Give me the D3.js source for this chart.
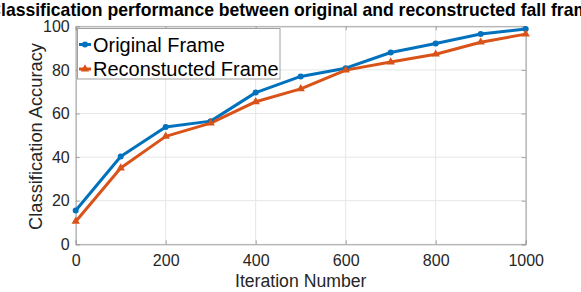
<!DOCTYPE html>
<html><head><meta charset="utf-8">
<script src="https://cdn.jsdelivr.net/npm/d3@7"></script>
<style>body{margin:0;background:#fff;} svg{display:block;} text{font-family:"Liberation Sans",Arial,Helvetica,sans-serif;}</style>
</head><body>
<svg id="c" width="581" height="292"></svg>
<script>
const iterations = [0,100,200,300,400,500,600,700,800,900,1000];
const originalFrame = [15.5,40.3,53.8,56.5,69.6,77.0,80.8,88.0,92.1,96.5,98.8];
const reconstructedFrame = [10.5,35.0,49.5,55.6,65.4,71.3,79.9,83.6,87.2,92.7,96.4];
const seriesNames = ["Original Frame","Reconstucted Frame"];
const xTicks = [0,200,400,600,800,1000];
const yTicks = [0,20,40,60,80,100];
const titleText = "Classification performance between original and reconstructed fall frames";

const svg = d3.select("#c");
const L = 75.7, R = 525.7, T = 26.3, B = 244.3;
const x = d3.scaleLinear().domain([0,1000]).range([L,R]);
const y = d3.scaleLinear().domain([0,100]).range([B,T]);
const axisCol = "#262626";

// fit a text's font size so it spans a target width
function fitWidth(sel, target){
  const n = sel.node();
  const fs = parseFloat(sel.style("font-size"));
  const w = n.getComputedTextLength();
  sel.style("font-size", (fs*target/w)+"px");
}

// grid
const g = svg.append("g");
g.selectAll(".gx").data(xTicks).join("line").attr("x1",d=>x(d)).attr("x2",d=>x(d)).attr("y1",T).attr("y2",B).attr("stroke","#e6e6e6").attr("stroke-width",1);
g.selectAll(".gy").data(yTicks).join("line").attr("x1",L).attr("x2",R).attr("y1",d=>y(d)).attr("y2",d=>y(d)).attr("stroke","#e6e6e6").attr("stroke-width",1);

// axes
const fmt = d3.format("d");
const xa = svg.append("g").attr("transform",`translate(0,${B})`).call(d3.axisBottom(x).tickValues(xTicks).tickSize(-4).tickPadding(10).tickFormat(fmt));
const ya = svg.append("g").attr("transform",`translate(${L},0)`).call(d3.axisLeft(y).tickValues(yTicks).tickSize(-4).tickPadding(6).tickFormat(fmt));
const xt = svg.append("g").attr("transform",`translate(0,${T})`).call(d3.axisTop(x).tickValues(xTicks).tickSize(-4).tickFormat(""));
const yr = svg.append("g").attr("transform",`translate(${R},0)`).call(d3.axisRight(y).tickValues(yTicks).tickSize(-4).tickFormat(""));
[xa,ya,xt,yr].forEach(a=>{
  a.selectAll("path").attr("stroke","#a0a0a0").attr("stroke-width",1);
  a.selectAll("line").attr("stroke","#a0a0a0");
  a.selectAll("text").attr("fill",axisCol).style("font-size","16px").style("font-family","'Liberation Sans',Arial,sans-serif");
});

// lines
const colors = ["#0072BD","#D95319"];
const data = [originalFrame, reconstructedFrame];
const line = d3.line().x((d,i)=>x(iterations[i])).y(d=>y(d));
data.forEach((s,k)=>{
  svg.append("path").datum(s).attr("d",line).attr("fill","none").attr("stroke",colors[k]).attr("stroke-width",3).attr("stroke-linejoin","round");
});
// markers
svg.selectAll(".m0").data(originalFrame).join("circle").attr("cx",(d,i)=>x(iterations[i])).attr("cy",d=>y(d)).attr("r",3).attr("fill",colors[0]);
const tri = d3.symbol().type(d3.symbolTriangle).size(30);
svg.selectAll(".m1").data(reconstructedFrame).join("path").attr("d",tri).attr("transform",(d,i)=>`translate(${x(iterations[i])},${y(d)})`).attr("fill",colors[1]);

// title: sized so that "lassification ... fra" spans 1..574 as in the reference
const title = svg.append("text").attr("x",0).attr("y",16).attr("font-weight","bold").style("font-size","17px").attr("fill","#000").text(titleText);
{
  const n = title.node();
  const idxFra = titleText.indexOf("frames") + 3;
  const w0 = n.getSubStringLength(1, idxFra-1);
  const fs = 17*573/w0;
  title.style("font-size", fs+"px");
  const cw = n.getSubStringLength(0,1);
  title.attr("x", 1 - cw);
}
// axis labels
const xl = svg.append("text").attr("x",(L+R)/2).attr("y",287).attr("text-anchor","middle").style("font-size","17px").attr("fill",axisCol).text("Iteration Number");
fitWidth(xl, 131.5);
const yl = svg.append("text").attr("transform",`translate(42,136.5) rotate(-90)`).attr("text-anchor","middle").style("font-size","17px").attr("fill",axisCol).text("Classification Accuracy");
fitWidth(yl, 187);

// legend
const lg = svg.append("g");
lg.append("rect").attr("x",77.5).attr("y",28.5).attr("width",202.5).attr("height",50.5).attr("fill","#fff").attr("stroke","#a0a0a0").attr("stroke-width",1);
seriesNames.forEach((n,k)=>{
  const yy = 44.5 + k*24.5;
  lg.append("line").attr("x1",79).attr("x2",91).attr("y1",yy).attr("y2",yy).attr("stroke",colors[k]).attr("stroke-width",3);
  if(k===0) lg.append("circle").attr("cx",85).attr("cy",yy).attr("r",3).attr("fill",colors[0]);
  else lg.append("path").attr("d",tri).attr("transform",`translate(85,${yy})`).attr("fill",colors[1]);
  const t = lg.append("text").attr("x",93).attr("y",yy+7).style("font-size","20px").attr("fill","#000").text(n);
  if(k===0) fitWidth(t, 132);
});
</script>
</body></html>
